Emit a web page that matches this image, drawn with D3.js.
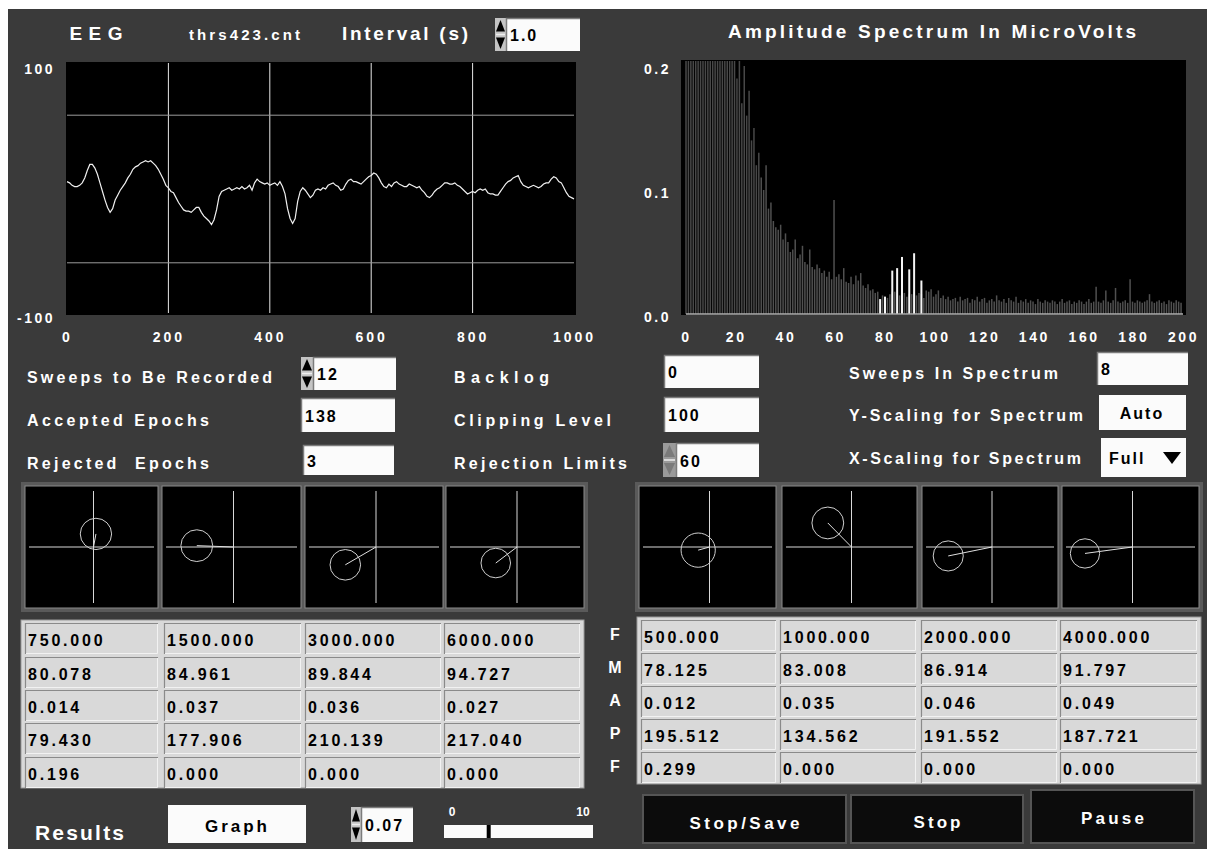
<!DOCTYPE html>
<html>
<head>
<meta charset="utf-8">
<script src="https://cdn.jsdelivr.net/npm/d3@7"></script>
<style>
  html, body { margin: 0; padding: 0; background: #fff; }
  svg { display: block; }
  text { font-family: "Liberation Sans", Arial, Helvetica, sans-serif; font-weight: bold; }
</style>
</head>
<body>
<svg id="panel" width="1212" height="849"></svg>
<script>
// ---------- recorded EEG sweep (µV), one sample every 5 ms over 0..1000 ms ----------
const eegStepMs = 5;
const eegValues = [
  6, 5, 3, 2, 2, 3, 5, 9, 15, 20, 20, 17, 12, 5, -2, -9, -15, -19, -16, -9,
  -5, -1, 2, 5, 9, 12, 16, 18, 19, 21, 22, 23, 22, 23, 21, 19, 16, 12, 8, 3,
  1, -2, -3, -7, -11, -14, -17, -18, -18, -19, -17, -15, -15, -19, -22, -24, -26, -29, -25, -17,
  -6, -2, -1, 0, 1, -1, 0, 1, 0, 2, 0, 1, 3, -1, 5, 8, 6, 5, 4, 5,
  3, 4, 5, 3, 6, 2, -4, -16, -24, -28, -24, -10, -2, 1, -1, -4, -7, -5, -1, 0,
  -1, 1, 0, 3, 4, 5, 3, 2, -1, 0, 4, 7, 8, 6, 6, 5, 4, 6, 8, 10,
  11, 13, 12, 9, 5, 2, 1, 4, 2, 5, 6, 4, 3, 2, 2, 4, 3, 2, 1, 2,
  -1, -3, -6, -7, -5, -2, 0, 1, 3, 5, 5, 4, 4, 5, 3, 2, 0, -2, -4, -3,
  -2, -3, -1, 0, -1, 0, -3, -4, -4, -5, -5, -2, 1, 4, 6, 7, 9, 10, 11, 6,
  3, 2, 1, 2, 3, 2, 1, 2, 4, 5, 5, 8, 10, 9, 6, 5, 1, -3, -6, -7,
  -8
];
const eegXTicks = [0, 200, 400, 600, 800, 1000];
const eegYTicks = [100, -100];
const eegGridX = [200, 400, 600, 800];

// ---------- amplitude spectrum (µV), bins of 1000/1024 Hz from 0 Hz ----------
const specBinHz = 1000 / 1024;
const specValues = [
  0.62, 0.55, 0.48, 0.51, 0.44, 0.47, 0.40, 0.43, 0.38, 0.41,
  0.45, 0.36, 0.33, 0.35, 0.30, 0.32, 0.28, 0.27, 0.29, 0.25,
  0.22, 0.19, 0.21, 0.17, 0.20, 0.16, 0.18, 0.14, 0.15, 0.12,
  0.13, 0.11, 0.10, 0.12, 0.085, 0.09, 0.075, 0.07, 0.068, 0.072,
  0.06, 0.065, 0.058, 0.05, 0.052, 0.06, 0.045, 0.048, 0.055, 0.042,
  0.04, 0.052, 0.038, 0.036, 0.04, 0.037, 0.033, 0.035, 0.03, 0.034,
  0.028, 0.092, 0.03, 0.032, 0.028, 0.037, 0.026, 0.025, 0.03, 0.024,
  0.031, 0.027, 0.033, 0.023, 0.021, 0.024, 0.019, 0.02, 0.017, 0.018,
  0.012, 0.015, 0.014, 0.013, 0.016, 0.018, 0.018, 0.017, 0.015, 0.019,
  0.017, 0.014, 0.016, 0.016, 0.018, 0.015, 0.017, 0.016, 0.013, 0.019,
  0.018, 0.02, 0.014, 0.016, 0.019, 0.013, 0.015, 0.012, 0.014, 0.011,
  0.012, 0.013, 0.01, 0.014, 0.011, 0.012, 0.013, 0.009, 0.012, 0.011,
  0.014, 0.01, 0.012, 0.013, 0.009, 0.011, 0.012, 0.01, 0.015, 0.011,
  0.01, 0.012, 0.009, 0.013, 0.011, 0.01, 0.014, 0.009, 0.011, 0.01,
  0.012, 0.009, 0.011, 0.01, 0.008, 0.012, 0.01, 0.009, 0.011, 0.01,
  0.009, 0.011, 0.01, 0.008, 0.01, 0.012, 0.009, 0.01, 0.011, 0.008,
  0.01, 0.009, 0.011, 0.01, 0.008, 0.01, 0.012, 0.009, 0.01, 0.022,
  0.01, 0.009, 0.011, 0.019, 0.01, 0.009, 0.011, 0.021, 0.01, 0.009,
  0.01, 0.011, 0.009, 0.028, 0.01, 0.009, 0.011, 0.01, 0.009, 0.01,
  0.011, 0.016, 0.01, 0.009, 0.01, 0.011, 0.009, 0.01, 0.008, 0.011,
  0.01, 0.009, 0.011, 0.01, 0.009
];
const specXTicks = [0, 20, 40, 60, 80, 100, 120, 140, 160, 180, 200];
const specYTicks = [0.2, 0.1, 0.0];

// ---------- controls ----------
const intervalSec = "1.0";
const sweepsToRecord = "12";
const acceptedEpochs = "138";
const rejectedEpochs = "3";
const backlog = "0";
const clippingLevel = "100";
const rejectionLimit = 60;
const sweepsInSpectrum = "8";
const yScaling = "Auto";
const xScaling = "Full";
const phasorRange = 0.07;
const sliderMin = 0, sliderMax = 10, sliderValue = 3;

// ---------- response table, left block ----------
const leftCarrier = [750, 1500, 3000, 6000];
const leftModFreq = [80.078, 84.961, 89.844, 94.727];
const leftAmp = [0.014, 0.037, 0.036, 0.027];
const leftPhase = [79.430, 177.906, 210.139, 217.040];
const leftProb = [0.196, 0.000, 0.000, 0.000];
const leftNoiseRadius = [0.0165, 0.016, 0.0155, 0.015];

// ---------- response table, right block ----------
const rightCarrier = [500, 1000, 2000, 4000];
const rightModFreq = [78.125, 83.008, 86.914, 91.797];
const rightAmp = [0.012, 0.035, 0.046, 0.049];
const rightPhase = [195.512, 134.562, 191.552, 187.721];
const rightProb = [0.299, 0.000, 0.000, 0.000];
const rightNoiseRadius = [0.0175, 0.0165, 0.0155, 0.015];

const rowLetters = ["F", "M", "A", "P", "F"];
const buttonLabels = ["Stop/Save", "Stop", "Pause"];

// =====================================================================
const svg = d3.select("#panel");
const fmt3 = d3.format(".3f");

svg.append("rect").attr("width", 1212).attr("height", 849).attr("fill", "#ffffff");
svg.append("rect").attr("x", 8).attr("y", 9).attr("width", 1199).attr("height", 840).attr("fill", "#3a3a3a");

function label(x, y, str, o = {}) {
  const t = svg.append("text")
    .attr("x", x).attr("y", y).text(str)
    .attr("fill", o.fill || "#ffffff")
    .attr("font-size", o.size || 16)
    .attr("dominant-baseline", "central")
    .attr("text-anchor", o.anchor || "start")
    .style("white-space", "pre");
  if (o.width) t.attr("textLength", o.width).attr("lengthAdjust", "spacing");
  else t.attr("letter-spacing", o.ls != null ? o.ls : 3);
  if (o.weight) t.attr("font-weight", o.weight);
  return t;
}

function inputBox(x, y, w, h, value) {
  svg.append("rect").attr("x", x).attr("y", y).attr("width", w).attr("height", h)
    .attr("fill", "#fbfbfb");
  svg.append("path")
    .attr("d", `M${x + 0.5},${y + h}V${y + 0.5}H${x + w}`)
    .attr("fill", "none").attr("stroke", "#7c7c7c").attr("stroke-width", 1.5);
  label(x + 4, y + h / 2 + 1, value, { fill: "#000", size: 16, ls: 2 });
}

function spinner(x, y, w, h, dim) {
  const c = dim ? "#7a7a7a" : "#000";
  svg.append("rect").attr("x", x).attr("y", y).attr("width", w).attr("height", h)
    .attr("fill", dim ? "#9a9a9a" : "#c4c4c4");
  const m = y + h / 2;
  svg.append("path")
    .attr("d", `M${x + 1},${m - 3}L${x + w / 2},${y + 2}L${x + w - 1},${m - 3}Z`)
    .attr("fill", c);
  svg.append("path")
    .attr("d", `M${x + 1},${m + 3}L${x + w / 2},${y + h - 2}L${x + w - 1},${m + 3}Z`)
    .attr("fill", c);
  svg.append("line").attr("x1", x + 1).attr("x2", x + w - 1).attr("y1", m).attr("y2", m)
    .attr("stroke", "#eee").attr("stroke-width", 1.5);
}

// ---------------- header ----------------
label(96, 33, "EEG", { size: 19, anchor: "middle", width: 53 });
label(189, 34, "thrs423.cnt", { size: 15, width: 111 });
label(342, 33, "Interval (s)", { size: 19, width: 126 });
spinner(495, 18, 11, 33, false);
inputBox(506, 18, 74, 33, intervalSec);
label(728, 31, "Amplitude Spectrum In MicroVolts", { size: 19, width: 408 });

// ---------------- EEG trace ----------------
const eeg = { x0: 66, x1: 576, y0: 62, y1: 315 };
svg.append("rect").attr("x", eeg.x0).attr("y", eeg.y0)
  .attr("width", eeg.x1 - eeg.x0).attr("height", eeg.y1 - eeg.y0).attr("fill", "#000");

const xE = d3.scaleLinear().domain([0, 1000]).range([67, 574]);
const yE = d3.scaleLinear().domain([-100, 100]).range([312, 66]);

svg.append("g").selectAll("line").data(eegGridX).join("line")
  .attr("x1", d => xE(d)).attr("x2", d => xE(d))
  .attr("y1", eeg.y0 + 1).attr("y2", eeg.y1 - 2)
  .attr("stroke", "#e6e6e6").attr("stroke-width", 1);
svg.append("g").selectAll("line").data([rejectionLimit, -rejectionLimit]).join("line")
  .attr("x1", xE(0)).attr("x2", xE(1000))
  .attr("y1", d => yE(d)).attr("y2", d => yE(d))
  .attr("stroke", "#9c9c9c").attr("stroke-width", 1);

const eegLine = d3.line().x((d, i) => xE(i * eegStepMs)).y(d => yE(d));
svg.append("path").datum(eegValues).attr("d", eegLine)
  .attr("fill", "none").attr("stroke", "#f0f0f0").attr("stroke-width", 1.2);

const eegXAxis = svg.append("g").attr("transform", `translate(0,${eeg.y1})`)
  .call(d3.axisBottom(xE).tickValues(eegXTicks).tickSize(0).tickFormat(d3.format("d")));
eegXAxis.select(".domain").remove();
eegXAxis.selectAll("text").attr("y", 22).attr("dy", "0.35em")
  .attr("fill", "#fff").attr("font-size", 14).attr("letter-spacing", 3)
  .attr("font-family", "Liberation Sans, Arial, sans-serif").attr("font-weight", "bold");

svg.append("g").selectAll("text").data(eegYTicks).join("text")
  .attr("x", 55).attr("y", d => yE(d) + (d > 0 ? 3 : 6))
  .attr("text-anchor", "end").attr("dominant-baseline", "central")
  .attr("fill", "#fff").attr("font-size", 14).attr("letter-spacing", 2.5)
  .text(d => d);

// ---------------- amplitude spectrum ----------------
const spec = { x0: 681, x1: 1186, y0: 60, y1: 315 };
svg.append("rect").attr("x", spec.x0).attr("y", spec.y0)
  .attr("width", spec.x1 - spec.x0).attr("height", spec.y1 - spec.y0).attr("fill", "#000");
svg.append("clipPath").attr("id", "specClip").append("rect")
  .attr("x", spec.x0).attr("y", spec.y0 + 1)
  .attr("width", spec.x1 - spec.x0).attr("height", spec.y1 - spec.y0);

const xS = d3.scaleLinear().domain([0, 200]).range([686, 1183]);
const yS = d3.scaleLinear().domain([0, 0.2]).range([314, 66]);

const specG = svg.append("g").attr("clip-path", "url(#specClip)");
specG.selectAll("line.bg").data(specValues).join("line").attr("class", "bg")
  .attr("x1", (d, i) => xS(i * specBinHz)).attr("x2", (d, i) => xS(i * specBinHz))
  .attr("y1", yS(0)).attr("y2", d => yS(d))
  .attr("stroke", (d, i) => i * specBinHz < 30 ? "#484848" : "#505050").attr("stroke-width", 1.5);

const signalFreqs = leftModFreq.concat(rightModFreq);
const signalAmps = leftAmp.concat(rightAmp);
specG.selectAll("line.sig").data(signalFreqs).join("line").attr("class", "sig")
  .attr("x1", d => xS(d)).attr("x2", d => xS(d))
  .attr("y1", yS(0)).attr("y2", (d, i) => yS(signalAmps[i]))
  .attr("stroke", "#f4f4f4").attr("stroke-width", 2);

svg.append("line").attr("x1", xS(0)).attr("x2", xS(200)).attr("y1", yS(0)).attr("y2", yS(0))
  .attr("stroke", "#b0b0b0").attr("stroke-width", 1.5);

const specXAxis = svg.append("g").attr("transform", `translate(0,${spec.y1})`)
  .call(d3.axisBottom(xS).tickValues(specXTicks).tickSize(0).tickFormat(d3.format("d")));
specXAxis.select(".domain").remove();
specXAxis.selectAll("text").attr("y", 22).attr("dy", "0.35em")
  .attr("fill", "#fff").attr("font-size", 14).attr("letter-spacing", 2.6)
  .attr("font-family", "Liberation Sans, Arial, sans-serif").attr("font-weight", "bold");

svg.append("g").selectAll("text").data(specYTicks).join("text")
  .attr("x", 671).attr("y", d => yS(d) + 3)
  .attr("text-anchor", "end").attr("dominant-baseline", "central")
  .attr("fill", "#fff").attr("font-size", 14).attr("letter-spacing", 2.5)
  .text(d => d.toFixed(1));

// ---------------- recording controls ----------------
label(27, 377, "Sweeps to Be Recorded", { width: 245 });
label(27, 420, "Accepted Epochs", { width: 182 });
label(27, 463, "Rejected  Epochs", { width: 182 });
spinner(301, 357, 12, 33, false);
inputBox(313, 357, 83, 33, sweepsToRecord);
inputBox(301, 398, 94, 34, acceptedEpochs);
inputBox(303, 445, 91, 30, rejectedEpochs);

label(454, 377, "Backlog", { width: 95 });
label(454, 420, "Clipping Level", { width: 157 });
label(454, 463, "Rejection Limits", { width: 173 });
inputBox(664, 355, 95, 33, backlog);
inputBox(664, 397, 95, 35, clippingLevel);
spinner(663, 443, 13, 34, true);
inputBox(676, 443, 83, 34, String(rejectionLimit));

label(849, 373, "Sweeps In Spectrum", { width: 209 });
label(849, 415, "Y-Scaling for Spectrum", { width: 234 });
label(849, 458, "X-Scaling for Spectrum", { width: 232 });
inputBox(1097, 352, 91, 33, sweepsInSpectrum);
svg.append("rect").attr("x", 1099).attr("y", 395).attr("width", 87).attr("height", 35).attr("fill", "#fbfbfb");
label(1142, 413, yScaling, { fill: "#000", size: 16, anchor: "middle", ls: 2 });
svg.append("rect").attr("x", 1101).attr("y", 438).attr("width", 85).attr("height", 39).attr("fill", "#fbfbfb");
label(1109, 458, xScaling, { fill: "#000", size: 16, ls: 2 });
svg.append("path").attr("d", "M1163,452L1181,452L1172,464Z").attr("fill", "#000");

// ---------------- phasor panels ----------------
function phasorRow(boxes, amps, phases, radii) {
  const g = svg.append("g");
  g.append("rect").attr("x", boxes[0][0] - 4).attr("y", 482)
    .attr("width", boxes[3][1] - boxes[0][0] + 8).attr("height", 130).attr("fill", "#5a5a5a");
  boxes.forEach(([x0, x1], i) => {
    const y0 = 486, y1 = 608;
    const cx = (x0 + x1) / 2 + 2, cy = (y0 + y1) / 2;
    const half = (x1 - x0) / 2;
    const px = d3.scaleLinear().domain([-phasorRange, phasorRange]).range([cx - half, cx + half]);
    const py = d3.scaleLinear().domain([-phasorRange, phasorRange]).range([cy + half, cy - half]);
    const p = g.append("g");
    p.append("rect").attr("x", x0).attr("y", y0).attr("width", x1 - x0).attr("height", y1 - y0)
      .attr("fill", "#000").attr("stroke", "#8a8a8a").attr("stroke-width", 1);
    p.append("line").attr("x1", x0 + 4).attr("x2", x1 - 4).attr("y1", py(0)).attr("y2", py(0))
      .attr("stroke", "#d8d8d8").attr("stroke-width", 1);
    p.append("line").attr("x1", px(0)).attr("x2", px(0)).attr("y1", y0 + 5).attr("y2", y1 - 5)
      .attr("stroke", "#d8d8d8").attr("stroke-width", 1);
    const a = amps[i], th = phases[i] * Math.PI / 180;
    const ex = a * Math.cos(th), ey = a * Math.sin(th);
    p.append("line").attr("x1", px(0)).attr("y1", py(0)).attr("x2", px(ex)).attr("y2", py(ey))
      .attr("stroke", "#e0e0e0").attr("stroke-width", 1);
    p.append("circle").attr("cx", px(ex)).attr("cy", py(ey))
      .attr("r", px(radii[i]) - px(0))
      .attr("fill", "none").attr("stroke", "#cfcfcf").attr("stroke-width", 1);
  });
}
phasorRow([[25, 158], [162, 301], [305, 443], [446, 584]], leftAmp, leftPhase, leftNoiseRadius);
phasorRow([[639, 776], [782, 917], [922, 1058], [1062, 1199]], rightAmp, rightPhase, rightNoiseRadius);

// ---------------- result tables ----------------
function table(x0, x1, y0, y1, cols, rowTops, rows) {
  svg.append("rect").attr("x", x0).attr("y", y0).attr("width", x1 - x0).attr("height", y1 - y0)
    .attr("fill", "#d9d9d9").attr("stroke", "#9a9a9a").attr("stroke-width", 1);
  rows.forEach((vals, r) => {
    cols.forEach(([cx0, cx1], c) => {
      const ty = rowTops[r], h = 31;
      svg.append("path").attr("d", `M${cx0 + 0.5},${ty + h}V${ty + 0.5}H${cx1}`)
        .attr("fill", "none").attr("stroke", "#8a8a8a").attr("stroke-width", 1.2);
      svg.append("path").attr("d", `M${cx0 + 1},${ty + h - 0.5}H${cx1 - 0.5}V${ty + 1}`)
        .attr("fill", "none").attr("stroke", "#f2f2f2").attr("stroke-width", 1);
      label(cx0 + 3, ty + 17, fmt3(vals[c]), { fill: "#000", size: 16, ls: 2.8 });
    });
  });
}
table(21, 584, 620, 788,
  [[25, 158], [164, 301], [305, 441], [444, 580]],
  [623, 657, 690, 723, 757],
  [leftCarrier, leftModFreq, leftAmp, leftPhase, leftProb]);
table(637, 1201, 617, 784,
  [[641, 776], [780, 916], [921, 1057], [1060, 1197]],
  [620, 653, 686, 719, 752],
  [rightCarrier, rightModFreq, rightAmp, rightPhase, rightProb]);

svg.append("g").selectAll("text").data(rowLetters).join("text")
  .attr("x", 615).attr("y", (d, i) => 634 + i * 33)
  .attr("text-anchor", "middle").attr("dominant-baseline", "central")
  .attr("fill", "#fff").attr("font-size", 16)
  .text(d => d);

// ---------------- footer ----------------
label(35, 832, "Results", { size: 21, width: 89 });
svg.append("rect").attr("x", 168).attr("y", 805).attr("width", 138).attr("height", 38).attr("fill", "#fbfbfb");
label(236, 826, "Graph", { fill: "#000", size: 17, anchor: "middle", width: 62 });
spinner(351, 807, 10, 35, false);
inputBox(361, 807, 52, 35, fmt3(phasorRange).slice(0, 4));

const xSl = d3.scaleLinear().domain([sliderMin, sliderMax]).range([444, 593]);
label(xSl(sliderMin) + 8, 812, String(sliderMin), { size: 12, weight: "normal", ls: 0, anchor: "middle" });
label(xSl(sliderMax) - 10, 812, String(sliderMax), { size: 12, weight: "normal", ls: 0, anchor: "middle" });
svg.append("rect").attr("x", xSl(sliderMin)).attr("y", 825).attr("width", xSl(sliderMax) - xSl(sliderMin))
  .attr("height", 13).attr("fill", "#fbfbfb");
svg.append("rect").attr("x", xSl(sliderValue) - 2).attr("y", 825).attr("width", 4).attr("height", 13).attr("fill", "#000");

const btns = [
  { x: 643, y: 795, w: 203, h: 48, ty: 823, tw: 110 },
  { x: 851, y: 795, w: 172, h: 48, ty: 822, tw: 47 },
  { x: 1031, y: 790, w: 163, h: 53, ty: 818, tw: 63 }
];
btns.forEach((b, i) => {
  svg.append("rect").attr("x", b.x).attr("y", b.y).attr("width", b.w).attr("height", b.h)
    .attr("fill", "#0c0c0c").attr("stroke", "#555").attr("stroke-width", 2);
  label(b.x + b.w / 2, b.ty, buttonLabels[i], { size: 17, anchor: "middle", width: b.tw });
});
</script>
</body>
</html>
